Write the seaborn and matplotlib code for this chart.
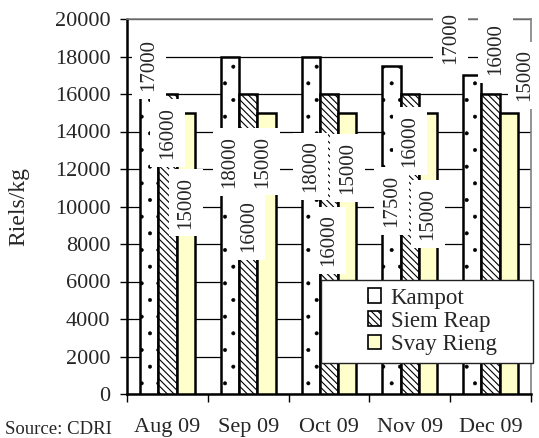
import matplotlib
matplotlib.use("Agg")
import matplotlib.pyplot as plt
from matplotlib.patches import Rectangle
import seaborn as sns
import pandas as pd
import numpy as np

months = ["Aug 09", "Sep 09", "Oct 09", "Nov 09", "Dec 09"]
kampot = [17000, 18000, 18000, 17500, 17000]
siem_reap = [16000, 16000, 16000, 16000, 16000]
svay_rieng = [15000, 15000, 15000, 15000, 15000]
series_names = ["Kampot", "Siem Reap", "Svay Rieng"]

# label placement (axes-fraction heights and x shifts)
label_pos = [
    [0.877, 0.696, 0.51],
    [0.619, 0.448, 0.62],
    [0.607, 0.41, 0.603],
    [0.515, 0.675, 0.48],
    [0.949, 0.92, 0.85],
]
label_dx = [
    [0, 0, 0],
    [0, 0, -0.05],
    [0, 0, 0],
    [0, 0, 0],
    [-0.27, 0.06, 0.2],
]

sns.set_theme(style="white")
plt.rcParams["font.family"] = ["Liberation Serif", "DejaVu Serif"]
plt.rcParams["hatch.linewidth"] = 0.8
plt.rcParams["hatch.color"] = "#333333"

df = pd.DataFrame({
    "month": np.repeat(months, 3),
    "series": series_names * len(months),
    "value": np.ravel(np.column_stack([kampot, siem_reap, svay_rieng])),
})

fig = plt.figure(figsize=(5.39, 4.38), dpi=100)
ax = fig.add_axes([127/539, 1 - 394/438, (531-127)/539, (394-19)/438])

colors = ["white", "white", "#FFFFCC"]
sns.barplot(data=df, x="month", y="value", hue="series", palette=colors,
            width=0.68, edgecolor="black", linewidth=1.8, ax=ax, zorder=3,
            saturation=1)

hatches = [".", "\\\\\\\\\\", ""]
for cont, h in zip(ax.containers, hatches):
    for bar in cont:
        bar.set_hatch(h)
        bar.set_edgecolor("black")
        if h == "." and hasattr(bar, "set_hatch_linewidth"):
            bar.set_hatch_linewidth(0.4)

# labels
vals = [kampot, siem_reap, svay_rieng]
for si, cont in enumerate(ax.containers):
    for mi, bar in enumerate(cont):
        xc = bar.get_x() + bar.get_width() / 2 + label_dx[mi][si]
        ax.text(xc, label_pos[mi][si], f"{vals[si][mi]}", rotation=90,
                ha="center", va="center", fontsize=15,
                transform=ax.get_xaxis_transform(), zorder=5,
                bbox=dict(facecolor="white", edgecolor="none", pad=5.5))

ax.set_ylim(0, 20000)
ax.set_xlim(-0.5, 4.5)
ax.set_yticks(np.arange(0, 20001, 2000))
ax.yaxis.grid(True, color="black", linewidth=0.9, zorder=0)
ax.set_axisbelow(True)
ax.tick_params(axis="y", which="major", direction="out", length=5, width=1,
               color="black", labelsize=16, pad=7, left=True)
ax.set_xticks(range(len(months)))
ax.set_xticklabels(months)
ax.tick_params(axis="x", which="major", length=0, labelsize=16, pad=17)
ax.set_xticks(np.arange(-0.5, 5, 1), minor=True)
ax.tick_params(axis="x", which="minor", direction="out", length=6, width=1,
               color="black", bottom=True)
ax.set_xlabel("")
ax.set_ylabel("Riels/kg", fontsize=17, labelpad=18)

for s in ["left", "bottom"]:
    ax.spines[s].set_color("black")
    ax.spines[s].set_linewidth(1.8)
for s in ["top", "right"]:
    ax.spines[s].set_visible(True)
    ax.spines[s].set_color("#808080")
    ax.spines[s].set_linewidth(1.2)

# legend frame (wider box, as in the reference)
frame = Rectangle((0.48, 0.083), 0.525, 0.221, transform=ax.transAxes,
                  facecolor="white", edgecolor="#222222", linewidth=1.0,
                  zorder=9, clip_on=False)
ax.add_patch(frame)
leg = ax.legend(loc="upper left", bbox_to_anchor=(0.59, 0.29), fontsize=16.5,
                frameon=False, handlelength=0.6, handleheight=0.6,
                handletextpad=0.4, borderpad=0.1, labelspacing=0.1,
                borderaxespad=0)
leg.set_zorder(10)
for p, h in zip(leg.get_patches(), hatches):
    p.set_linewidth(1.2)
    p.set_hatch(h)
    p.set_edgecolor("black")

fig.text(5/539, 1 - 434/438, "Source: CDRI", fontsize=13.5, ha="left", va="baseline")

fig.savefig("out.png", dpi=100)
